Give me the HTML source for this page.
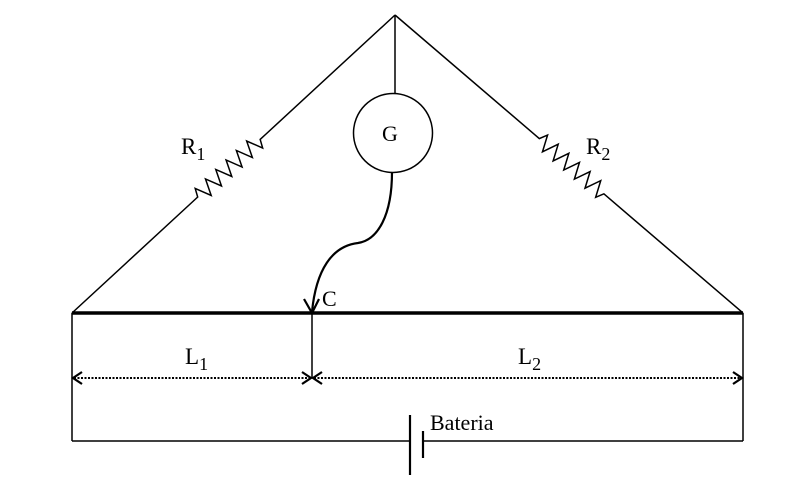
<!DOCTYPE html>
<html><head><meta charset="utf-8"><style>
html,body{margin:0;padding:0;background:#fff;width:804px;height:504px;overflow:hidden}
text{font-family:"Liberation Serif",serif;fill:#000}
</style></head><body>
<svg width="804" height="504" viewBox="0 0 804 504" xmlns="http://www.w3.org/2000/svg">
<g fill="none" stroke="#000" stroke-width="1.5">
<g transform="translate(72,313) rotate(-42.69)">
<path d="M0 0 L165 0 L171 0 L175 -8 L182 8 L189 -8 L196 8 L203 -8 L210 8 L217 -8 L224 8 L231 -8 L238 8 L245 -8 L252 8 L256 0 L264 0 L439.5 0"/>
</g>
<g transform="translate(395,15) rotate(40.57)">
<path d="M0 0 L184 0 L190 0 L194 -8 L201 8 L208 -8 L215 8 L222 -8 L229 8 L236 -8 L243 8 L250 -8 L257 8 L264 -8 L271 8 L275 0 L283 0 L458.1 0"/>
</g>
<line x1="395" y1="15" x2="395" y2="94"/>
<circle cx="393" cy="133" r="39.5"/>
<path d="M392 172 C392 215 378 240 358 243 C332 246 316 270 312 312" stroke-width="2.2"/>
<path d="M304 299 L312 313 L319 299" stroke-width="2.2"/>
<line x1="72" y1="313" x2="743" y2="313" stroke-width="3.5"/>
<line x1="72" y1="313" x2="72" y2="441"/>
<line x1="743" y1="313" x2="743" y2="441"/>
<line x1="312" y1="313" x2="312" y2="378"/>
<line x1="74" y1="378" x2="310" y2="378" stroke-dasharray="2,1.5" stroke-width="2"/>
<line x1="314" y1="378" x2="741" y2="378" stroke-dasharray="2,1.5" stroke-width="2"/>
<path d="M82 372 L73 378 L82 384" stroke-width="2.2"/>
<path d="M302 372 L311 378 L302 384" stroke-width="2.2"/>
<path d="M322 372 L313 378 L322 384" stroke-width="2.2"/>
<path d="M733 372 L742 378 L733 384" stroke-width="2.2"/>
<line x1="72" y1="441" x2="410" y2="441"/>
<line x1="423" y1="441" x2="743" y2="441"/>
<line x1="410" y1="415" x2="410" y2="475" stroke-width="2.2"/>
<line x1="423" y1="431" x2="423" y2="458" stroke-width="2.2"/>
</g>
<text x="181" y="154" font-size="23">R<tspan font-size="18" dy="6">1</tspan></text>
<text x="586" y="154" font-size="23">R<tspan font-size="18" dy="6">2</tspan></text>
<text x="382" y="141" font-size="22">G</text>
<text x="322" y="306" font-size="22">C</text>
<text x="185" y="364" font-size="23">L<tspan font-size="18" dy="6">1</tspan></text>
<text x="518" y="364" font-size="23">L<tspan font-size="18" dy="6">2</tspan></text>
<text x="430" y="430" font-size="22">Bateria</text>
</svg>
</body></html>
